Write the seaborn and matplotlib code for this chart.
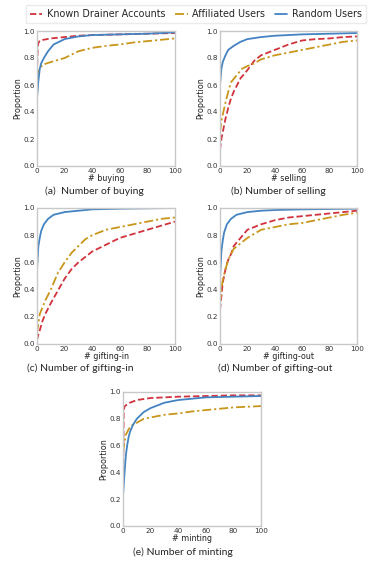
import matplotlib
matplotlib.use("Agg")
import matplotlib.pyplot as plt
import seaborn as sns
import pandas as pd

# CDF points: x = count, y = proportion
buy_drainer_x = [0, 0.5, 1, 2, 10, 20, 30, 40, 60, 80, 100]
buy_drainer_y = [0.68, 0.88, 0.91, 0.93, 0.945, 0.955, 0.965, 0.97, 0.975, 0.98, 0.985]
buy_affil_x = [0, 1, 2, 4, 10, 20, 30, 40, 50, 60, 70, 80, 90, 100]
buy_affil_y = [0.65, 0.70, 0.72, 0.75, 0.77, 0.80, 0.85, 0.875, 0.89, 0.90, 0.915, 0.925, 0.935, 0.945]
buy_random_x = [0, 1, 2, 3, 5, 8, 12, 20, 30, 40, 60, 80, 100]
buy_random_y = [0.50, 0.63, 0.72, 0.76, 0.80, 0.85, 0.90, 0.94, 0.96, 0.97, 0.975, 0.98, 0.99]

sell_drainer_x = [0, 1, 2, 4, 6, 8, 10, 15, 20, 25, 30, 40, 50, 60, 70, 80, 90, 100]
sell_drainer_y = [0.12, 0.20, 0.25, 0.35, 0.43, 0.50, 0.55, 0.65, 0.71, 0.78, 0.82, 0.86, 0.90, 0.93, 0.94, 0.945, 0.955, 0.96]
sell_affil_x = [0, 1, 2, 4, 6, 8, 12, 16, 20, 25, 30, 40, 50, 60, 70, 80, 90, 100]
sell_affil_y = [0.25, 0.33, 0.38, 0.47, 0.55, 0.62, 0.67, 0.72, 0.74, 0.76, 0.79, 0.82, 0.84, 0.86, 0.88, 0.90, 0.92, 0.93]
sell_random_x = [0, 1, 2, 4, 6, 10, 15, 20, 30, 40, 60, 80, 100]
sell_random_y = [0.60, 0.72, 0.77, 0.82, 0.86, 0.89, 0.92, 0.94, 0.955, 0.965, 0.975, 0.98, 0.985]

gin_drainer_x = [0, 1, 2, 4, 6, 10, 15, 20, 25, 30, 40, 50, 60, 70, 80, 90, 100]
gin_drainer_y = [0.03, 0.07, 0.10, 0.17, 0.22, 0.30, 0.39, 0.48, 0.55, 0.60, 0.68, 0.73, 0.78, 0.81, 0.84, 0.87, 0.90]
gin_affil_x = [0, 1, 2, 4, 6, 10, 15, 20, 25, 30, 35, 40, 50, 60, 70, 80, 90, 100]
gin_affil_y = [0.08, 0.15, 0.22, 0.27, 0.32, 0.40, 0.52, 0.60, 0.67, 0.72, 0.77, 0.80, 0.84, 0.86, 0.88, 0.90, 0.92, 0.93]
gin_random_x = [0, 1, 2, 3, 5, 8, 12, 20, 30, 40, 60, 100]
gin_random_y = [0.55, 0.72, 0.78, 0.83, 0.88, 0.92, 0.95, 0.97, 0.98, 0.99, 0.995, 1.0]

gout_drainer_x = [0, 1, 2, 4, 6, 8, 10, 15, 20, 30, 40, 50, 60, 70, 80, 90, 100]
gout_drainer_y = [0.25, 0.35, 0.45, 0.55, 0.62, 0.66, 0.72, 0.78, 0.84, 0.88, 0.91, 0.93, 0.94, 0.95, 0.96, 0.97, 0.98]
gout_affil_x = [0, 1, 2, 4, 6, 8, 10, 15, 20, 30, 40, 50, 60, 70, 80, 90, 100]
gout_affil_y = [0.30, 0.40, 0.47, 0.55, 0.62, 0.66, 0.70, 0.74, 0.78, 0.84, 0.86, 0.88, 0.89, 0.91, 0.93, 0.95, 0.965]
gout_random_x = [0, 1, 2, 3, 5, 8, 12, 20, 30, 40, 60, 100]
gout_random_y = [0.48, 0.68, 0.76, 0.82, 0.88, 0.92, 0.95, 0.97, 0.98, 0.985, 0.99, 0.995]

mint_drainer_x = [0, 0.5, 1, 2, 5, 10, 20, 40, 60, 80, 100]
mint_drainer_y = [0.25, 0.85, 0.89, 0.90, 0.92, 0.94, 0.955, 0.965, 0.97, 0.975, 0.975]
mint_affil_x = [0, 1, 2, 4, 6, 10, 15, 20, 30, 40, 50, 60, 70, 80, 90, 100]
mint_affil_y = [0.55, 0.62, 0.68, 0.72, 0.75, 0.77, 0.80, 0.81, 0.83, 0.84, 0.855, 0.865, 0.875, 0.885, 0.89, 0.895]
mint_random_x = [0, 1, 2, 3, 4, 5, 7, 10, 15, 20, 30, 40, 50, 60, 80, 100]
mint_random_y = [0.22, 0.38, 0.52, 0.60, 0.66, 0.70, 0.75, 0.80, 0.85, 0.88, 0.92, 0.94, 0.95, 0.96, 0.965, 0.97]

groups = ["Known Drainer Accounts", "Affiliated Users", "Random Users"]
colors = ["#d0333d", "#c9961c", "#4383c1"]
dashes = [(0, (3.5, 1.6)), (0, (5, 1.6, 1.2, 1.6)), "-"]

panels = [
    ("# buying", "(a)  Number of buying",
     [(buy_drainer_x, buy_drainer_y), (buy_affil_x, buy_affil_y), (buy_random_x, buy_random_y)]),
    ("# selling", "(b) Number of selling",
     [(sell_drainer_x, sell_drainer_y), (sell_affil_x, sell_affil_y), (sell_random_x, sell_random_y)]),
    ("# gifting-in", "(c) Number of gifting-in",
     [(gin_drainer_x, gin_drainer_y), (gin_affil_x, gin_affil_y), (gin_random_x, gin_random_y)]),
    ("# gifting-out", "(d) Number of gifting-out",
     [(gout_drainer_x, gout_drainer_y), (gout_affil_x, gout_affil_y), (gout_random_x, gout_random_y)]),
    ("# minting", "(e) Number of minting",
     [(mint_drainer_x, mint_drainer_y), (mint_affil_x, mint_affil_y), (mint_random_x, mint_random_y)]),
]

sns.set_style("white")
plt.rcParams["font.family"] = ["DejaVu Sans"]

W, H = 374, 561
fig = plt.figure(figsize=(W / 100, H / 100), dpi=100)

# axes boxes in pixels: left, top, right, bottom
boxes = [(37, 31, 175, 166), (220, 31, 357, 166),
         (37, 208, 175, 344), (220, 208, 357, 344),
         (123, 392, 261, 526)]
captions_xy = [(94, 191), (278, 191), (80, 368), (275, 368), (183, 552)]

for (xlabel, caption, series), (l, t, r, b), (cx, cy) in zip(panels, boxes, captions_xy):
    ax = fig.add_axes([l / W, 1 - b / H, (r - l) / W, (b - t) / H])
    for name, (xs, ys), c, ls in zip(groups, series, colors, dashes):
        df = pd.DataFrame({"x": xs, "y": ys})
        sns.lineplot(data=df, x="x", y="y", ax=ax, color=c, linestyle=ls,
                     linewidth=1.3, label=name, legend=False)
    ax.set_xlim(0, 100)
    ax.set_ylim(0, 1)
    ax.set_xticks([0, 20, 40, 60, 80, 100])
    ax.set_yticks([0, 0.2, 0.4, 0.6, 0.8, 1.0])
    ax.set_yticklabels(["0.0", "0.2", "0.4", "0.6", "0.8", "1.0"])
    ax.tick_params(labelsize=5.2, length=0, pad=1.5, colors="#333333")
    ax.set_xlabel(xlabel, fontsize=5.8, labelpad=0, color="#222222")
    ax.set_ylabel("Proportion", fontsize=5.8, labelpad=1, color="#222222")
    for sp in ax.spines.values():
        sp.set_color("#c8c8c8")
        sp.set_linewidth(1.0)
    fig.text(cx / W, 1 - cy / H, caption, ha="center", va="center",
             fontsize=7.5, family=["Lato", "DejaVu Sans"])

handles, labels = ax.get_legend_handles_labels()
fig.legend(handles, labels, loc="center", bbox_to_anchor=(196 / W, 1 - 14 / H),
           ncol=3, fontsize=6.9, frameon=True, handlelength=1.3, handletextpad=0.5,
           columnspacing=1.0, borderpad=0.4, edgecolor="#e6e6e6", fancybox=False)

fig.savefig("out.png", dpi=100)
